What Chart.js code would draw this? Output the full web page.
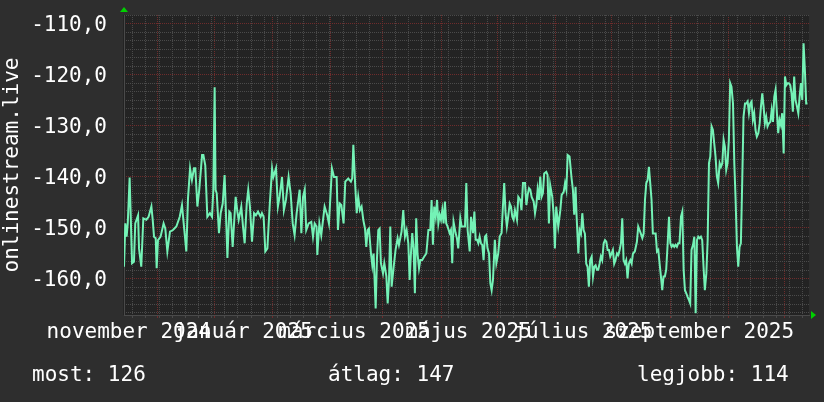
<!DOCTYPE html>
<html><head><meta charset="utf-8">
<script src="https://cdn.jsdelivr.net/npm/chart.js@4"></script>
<style>html,body{margin:0;padding:0;background:#2e2e2e;overflow:hidden}canvas{display:block}</style>
</head><body>
<canvas id="c" width="824" height="402"></canvas>
<script>
// ---- data (x = days since 2024-10-14, y = signal value) ----
const seriesName = 'onlinestream.live';
const dayOffsets = [
0.0,0.7,1.4,2.0,3.0,4.3,5.3,6.0,7.5,8.0,9.2,10.3,11.9,13.1,14.6,15.3,16.0,16.9,17.4,18.1,19.5,21.1,22.0,23.1,24.5,26.1,27.9,29.7,30.9,33.2,34.1,35.2,36.2,37.3,38.0,39.1,40.1,41.6,42.3,43.3,44.4,45.8,46.9,47.6,48.3,48.8,49.4,50.6,51.5,52.6,53.6,54.3,55.1,56.1,56.8,57.9,59.5,60.4,61.1,62.5,63.4,64.3,65.4,66.2,67.1,68.2,69.3,70.3,71.4,72.8,73.5,74.4,75.3,76.4,77.6,78.9,79.6,81.0,82.0,82.9,84.2,85.2,86.3,87.7,88.8,89.9,90.9,92.0,93.6,94.5,95.4,96.3,97.1,98.4,99.8,100.7,101.6,102.6,103.0,104.1,105.1,106.9,108.3,109.2,110.8,111.9,113.3,114.0,114.9,115.8,117.0,117.9,
119.5,120.9,121.6,122.2,123.1,124.0,124.8,125.7,126.6,127.5,128.4,129.1,129.8,130.5,131.6,132.3,133.0,134.1,134.8,135.5,136.2,136.9,138.0,138.7,139.8,140.5,141.2,141.9,142.6,143.7,144.7,145.8,146.5,147.2,147.9,148.8,149.7,150.6,151.5,152.2,152.9,153.6,154.3,155.0,155.7,156.4,157.2,157.9,158.9,160.0,161.1,162.2,163.2,163.9,164.6,165.3,166.1,166.8,167.5,168.2,168.9,169.6,170.3,171.0,171.7,172.4,173.5,174.2,174.9,175.6,176.7,177.4,178.1,179.2,179.9,181.0,181.7,182.4,183.1,184.2,184.9,186.0,186.7,187.4,188.1,188.8,189.5,190.2,190.9,191.6,192.3,193.0,193.7,194.5,195.2,195.9,196.6,197.6,198.4,199.4,200.2,201.2,201.9,202.6,203.3,204.0,204.7,205.5,206.2,206.9,207.6,208.3,209.4,210.1,211.1,211.8,212.6,213.7,214.4,215.1,215.8,216.5,217.2,218.3,219.0,219.7,220.4,221.1,221.8,222.5,223.2,223.9,225.0,225.7,226.4,227.1,228.2,228.9,229.6,230.3,231.4,232.5,233.2,234.3,235.0,235.7,236.4,237.4,238.5,239.2,239.9,240.6,
241.1,242.1,242.8,243.5,244.2,244.9,245.6,246.3,247.0,247.7,248.4,249.2,249.9,250.6,251.3,252.0,252.7,253.4,254.1,254.8,255.6,256.3,257.0,257.7,258.4,259.1,259.8,260.5,261.2,261.9,262.7,263.4,264.1,264.8,265.5,266.2,266.9,267.6,268.3,269.0,269.8,270.5,271.2,272.2,273.3,274.0,274.7,275.4,276.2,276.9,277.6,278.3,279.0,279.7,280.4,281.1,281.8,282.5,283.3,284.0,284.7,285.4,286.1,286.8,287.5,288.2,288.9,289.7,290.4,291.1,291.8,292.5,293.2,293.9,294.6,295.3,296.0,296.8,297.5,298.2,298.9,299.6,300.3,301.0,301.7,302.4,303.2,303.9,304.6,305.3,306.0,306.7,307.4,308.1,308.8,309.5,310.3,311.0,311.7,312.4,313.1,313.8,314.5,315.2,315.9,316.6,317.4,318.1,318.8,319.5,320.2,320.9,321.6,322.3,323.0,323.7,324.5,325.2,325.9,326.6,327.3,328.0,328.7,329.4,330.1,330.9,331.6,332.3,333.0,333.7,334.4,335.1,335.8,336.5,337.2,338.0,338.7,339.4,340.1,340.8,341.5,342.2,342.9,343.6,344.4,345.1,345.8,346.5,347.2,347.9,348.6,349.3,350.0,350.7,351.5,352.2,352.9,353.6,354.3,355.0,355.7,356.4,357.1,357.8,358.6,359.3,360.0,360.7,361.4,362.1,362.8,363.5,364.2
];
const signal = [
-157.6,-149.1,-151.7,-149.1,-140.1,-156.9,-156.6,-149.1,-147.5,-154.0,-157.6,-148.1,-148.4,-147.8,-145.8,-148.4,-151.7,-152.0,-157.9,-152.4,-151.7,-149.1,-150.1,-154.6,-150.7,-150.4,-149.7,-147.8,-145.5,-154.6,-144.2,-138.3,-140.6,-138.3,-138.3,-145.8,-142.5,-135.7,-135.7,-137.7,-147.8,-147.1,-147.8,-142.5,-122.4,-142.5,-143.2,-151.0,-147.1,-145.2,-139.6,-146.8,-155.9,-146.8,-147.1,-153.7,-143.9,-146.8,-148.4,-145.8,-149.7,-153.0,-145.2,-142.5,-145.8,-152.7,-147.1,-147.5,-146.8,-147.8,-147.1,-147.8,-154.6,-154.0,-145.8,-138.3,-140.0,-138.3,-145.8,-143.9,-140.0,-146.5,-144.5,-140.0,-143.2,-149.1,-151.4,-147.1,-142.5,-151.0,-143.9,-142.5,-150.4,-149.1,-148.8,-151.7,-149.1,-149.7,-155.3,-149.1,-151.4,-145.8,-147.5,-149.1,-138.3,-140.0,-140.0,-150.4,-145.2,-145.5,-149.1,-140.9,
-140.3,-140.9,-140.3,-133.7,-140.9,-147.1,-143.9,-146.5,-145.8,-148.4,-150.1,-153.7,-150.4,-150.1,-155.0,-157.3,-155.0,-165.8,-155.9,-150.4,-150.1,-156.9,-158.9,-156.9,-159.5,-164.8,-160.2,-149.7,-161.5,-157.6,-154.3,-152.0,-153.3,-152.0,-150.7,-146.5,-151.7,-150.4,-153.0,-160.2,-155.0,-151.0,-154.0,-162.8,-148.1,-155.0,-157.9,-156.3,-156.3,-155.6,-155.0,-150.4,-150.4,-144.5,-153.3,-145.8,-147.8,-144.5,-149.1,-147.4,-148.4,-146.5,-149.1,-144.8,-149.1,-149.7,-151.0,-150.4,-156.9,-148.8,-151.0,-152.0,-154.0,-148.1,-149.7,-149.7,-149.7,-141.2,-150.4,-154.6,-147.8,-151.0,-146.8,-152.3,-152.3,-153.0,-151.7,-153.0,-153.3,-156.3,-151.7,-151.4,-154.0,-155.0,-160.8,-162.2,-160.2,-152.3,-156.9,-155.0,-151.7,-151.0,-145.8,-141.2,-147.1,-149.7,-147.8,-145.2,-145.8,-147.8,-148.4,-146.5,-148.4,-143.9,-144.5,-146.5,-141.2,-141.2,-145.5,-143.5,-142.2,-142.5,-143.9,-144.8,-147.1,-145.5,-142.5,-144.5,-139.9,-143.9,-143.2,-139.3,-139.0,-139.6,-149.1,-141.6,-143.9,-147.1,-154.0,-145.8,-149.7,-146.5,-143.5,-142.9,-141.2,-142.5,-135.7,-136.0,-140.3,-142.5,-147.4,-141.9,
-147.1,-155.0,-150.4,-151.1,-147.1,-150.4,-151.1,-157.0,-157.6,-161.5,-156.3,-155.6,-159.5,-157.6,-157.3,-158.2,-158.2,-157.0,-155.6,-156.3,-153.0,-152.4,-152.7,-154.3,-154.3,-155.6,-155.0,-154.3,-157.0,-156.3,-155.0,-155.3,-154.3,-153.0,-148.1,-156.3,-157.0,-156.3,-159.9,-157.0,-156.3,-157.0,-155.0,-154.6,-152.7,-149.7,-150.4,-151.1,-152.0,-151.1,-144.5,-141.2,-140.6,-138.0,-141.2,-144.5,-151.1,-151.1,-151.1,-154.6,-154.3,-157.0,-159.5,-162.2,-159.5,-159.5,-158.2,-153.0,-147.8,-153.0,-153.7,-153.3,-153.7,-153.3,-153.7,-153.0,-153.0,-147.8,-146.8,-158.2,-162.2,-162.8,-163.5,-164.1,-164.8,-154.3,-153.3,-151.7,-166.7,-152.4,-151.7,-152.0,-151.7,-152.4,-157.6,-162.2,-158.9,-152.4,-137.3,-136.0,-130.1,-130.8,-133.4,-136.0,-139.9,-141.2,-137.3,-138.0,-137.3,-132.7,-134.1,-138.6,-137.3,-132.7,-121.6,-122.3,-125.6,-137.3,-144.5,-153.7,-157.6,-153.7,-153.0,-141.2,-128.2,-125.6,-125.6,-125.2,-127.5,-125.6,-125.2,-128.8,-127.5,-130.8,-132.1,-131.4,-129.5,-126.2,-123.6,-126.2,-129.5,-128.2,-130.1,-129.5,-129.2,-126.9,-129.2,-124.3,-122.9,-127.5,-131.4,-128.8,-129.8,-127.5,-135.4,-120.3,-122.0,-121.6,-121.6,-122.0,-123.6,-127.2,-120.3,-124.9,-126.2,-127.5,-124.3,-121.6,-124.9,-113.8,-119.0,-125.6,-125.6
];
const yTickValues = [-160, -150, -140, -130, -120, -110];
const monthDays = [18, 48, 79, 110, 138, 169, 199, 230, 260, 291, 322, 352];
const labelDays = [2.55, 63.55, 122.55, 183.55, 244.55, 306.55];
const labelTexts = ['november 2024', 'január 2025', 'március 2025', 'május 2025', 'július 2025', 'szeptember 2025'];
const summaryNames = ['most', 'átlag', 'legjobb'];
const summaryValues = [126, 147, 114];

const X_MIN = 0, X_MAX = 365, Y_MIN = -167.06, Y_MAX = -108.24;
const FONT = 'DejaVu Sans Mono';
const RED = '#6e2c2c', GRAY = '#4a4a4a';

const bgPlugin = {
  id: 'bg',
  beforeDraw(chart) {
    const {ctx, chartArea: a} = chart;
    ctx.save();
    ctx.fillStyle = '#2e2e2e';
    ctx.fillRect(0, 0, chart.width, chart.height);
    ctx.fillStyle = '#232323';
    ctx.fillRect(a.left - 1, a.top, a.right - a.left + 1, a.bottom - a.top);
    ctx.restore();
  },
  afterDraw(chart) {
    const {ctx, chartArea: a} = chart;
    ctx.save();
    ctx.fillStyle = '#00d000';
    ctx.beginPath();
    ctx.moveTo(a.left - 4, a.top - 3); ctx.lineTo(a.left + 4, a.top - 3); ctx.lineTo(a.left, a.top - 8);
    ctx.closePath(); ctx.fill();
    ctx.beginPath();
    ctx.moveTo(a.right + 2, a.bottom - 4); ctx.lineTo(a.right + 2, a.bottom + 4); ctx.lineTo(a.right + 7, a.bottom);
    ctx.closePath(); ctx.fill();
    ctx.fillStyle = '#ffffff';
    ctx.font = '21px "' + FONT + '"';
    ctx.textBaseline = 'alphabetic';
    const xs = [32, 328, 637];
    summaryNames.forEach((n, i) => ctx.fillText(n + ': ' + summaryValues[i], xs[i], 381));
    ctx.restore();
  }
};

new Chart(document.getElementById('c'), {
  type: 'line',
  data: {
    datasets: [{
      label: seriesName,
      data: dayOffsets.map((d, i) => ({x: d, y: signal[i]})),
      borderColor: '#74f2b6',
      borderWidth: 2,
      pointRadius: 0,
      tension: 0,
      fill: false
    }]
  },
  options: {
    responsive: false,
    animation: false,
    devicePixelRatio: 1,
    layout: {padding: {left: 0, right: 15, top: 15, bottom: 0}},
    plugins: {legend: {display: false}, tooltip: {enabled: false}},
    scales: {
      xg: {
        type: 'linear', position: 'bottom', min: X_MIN, max: X_MAX, weight: 0,
        afterBuildTicks(s) {
          const v = [];
          for (let k = 0; k < 53; k++) { const d = 4.7 + 7 * k; if (d < X_MAX) v.push(d); }
          monthDays.forEach(m => v.push(m));
          v.sort((a, b) => a - b);
          s.ticks = v.map(x => ({value: x}));
        },
        afterFit(s) { s.height = 0; s.paddingLeft = 0; s.paddingRight = 0; },
        ticks: {display: false},
        grid: {
          color: c => monthDays.includes(c.tick && c.tick.value) ? RED : GRAY,
          tickColor: c => monthDays.includes(c.tick && c.tick.value) ? RED : GRAY,
          lineWidth: 1, drawTicks: true, tickLength: 3
        },
        border: {display: false, dash: [1, 1]}
      },
      x: {
        type: 'linear', position: 'bottom', min: X_MIN, max: X_MAX, weight: 1,
        afterBuildTicks(s) { s.ticks = labelDays.map(v => ({value: v})); },
        afterFit(s) { s.height = 87; s.paddingLeft = 0; s.paddingRight = 0; },
        grid: {display: false},
        border: {display: true, color: '#4a4a4a', width: 1},
        ticks: {
          autoSkip: false, maxRotation: 0, minRotation: 0, padding: -3,
          color: '#ffffff', font: {family: FONT, size: 21},
          callback: (v) => { const i = labelDays.indexOf(v); return i >= 0 ? labelTexts[i] : ''; }
        }
      },
      yg: {
        type: 'linear', position: 'left', min: Y_MIN, max: Y_MAX, weight: 0,
        afterBuildTicks(s) {
          const v = [];
          for (let k = -1; k <= 35; k++) { const y = -110 - k * 10 / 6; if (y >= Y_MIN && y <= Y_MAX) v.push(y); }
          s.ticks = v.map(y => ({value: y}));
        },
        afterFit(s) { s.width = 0; s.paddingTop = 0; s.paddingBottom = 0; },
        ticks: {display: false},
        grid: {
          color: c => { const t = c.tick ? c.tick.value / 10 : 0.5; return Math.abs(t - Math.round(t)) < 1e-6 ? RED : GRAY; },
          lineWidth: 1, drawTicks: false
        },
        border: {display: false, dash: [1, 1]}
      },
      y: {
        type: 'linear', position: 'left', min: Y_MIN, max: Y_MAX, weight: 1,
        afterBuildTicks(s) { s.ticks = yTickValues.map(v => ({value: v})); },
        afterFit(s) { s.width = 124; s.paddingTop = 0; s.paddingBottom = 0; },
        grid: {display: false, drawTicks: false},
        border: {display: true, color: '#4a4a4a', width: 1},
        ticks: {
          padding: 17, labelOffset: 1.5, color: '#ffffff', font: {family: FONT, size: 21},
          callback: v => v.toFixed(1).replace('.', ',')
        },
        title: {
          display: true, text: seriesName, color: '#ffffff',
          font: {family: FONT, size: 21}, padding: {top: 0, bottom: 0}
        }
      }
    }
  },
  plugins: [bgPlugin]
});
</script>
</body></html>
